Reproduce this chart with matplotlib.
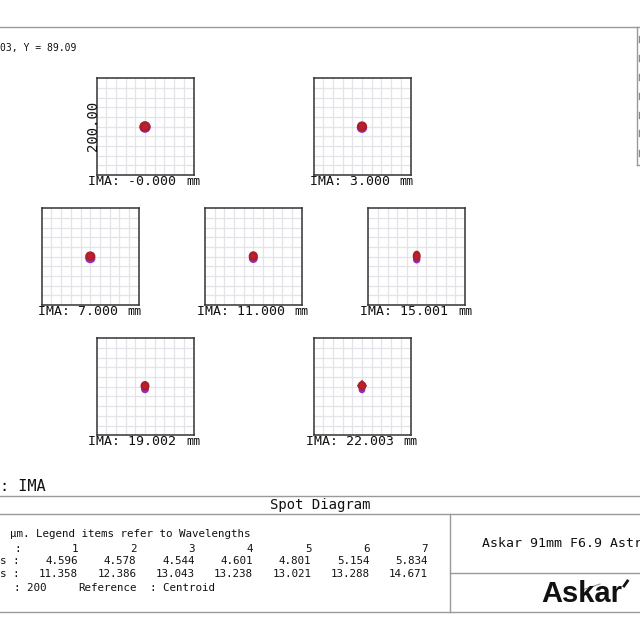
import matplotlib
matplotlib.use("Agg")
import matplotlib.pyplot as plt
from matplotlib.patches import Ellipse, Polygon
from matplotlib.lines import Line2D
from matplotlib.text import Annotation

# ---------------- data ----------------
field_labels = ["-0.000", "3.000", "7.000", "11.000", "15.001", "19.002", "22.003"]
field_numbers = [1, 2, 3, 4, 5, 6, 7]
rms_radius = [4.596, 4.578, 4.544, 4.601, 4.801, 5.154, 5.834]
geo_radius = [11.358, 12.386, 13.043, 13.238, 13.021, 13.288, 14.671]
box_scale_um = 200.00
rays_density = 200
# spot appearance (micrometres): red (long wl) and purple (short wl)
red_w = [22.5, 21.0, 21.0, 19.0, 16.5, 18.5, 21.0]
red_h = [22.5, 21.0, 20.0, 20.5, 22.0, 20.5, 25.0]
red_dy = [0.0, 0.5, 1.0, 1.0, 1.5, 1.5, 2.0]
pur_w = [23.5, 21.5, 21.0, 18.5, 15.5, 16.5, 14.0]
pur_h = [23.5, 21.5, 20.0, 19.0, 17.0, 17.0, 15.0]
pur_dy = [-0.8, -2.0, -3.5, -3.5, -5.5, -5.0, -6.0]
spot_shape = ["o", "o", "o", "o", "o", "o", "d"]

RED = "#ae1f2b"
PURPLE = "#8a2fd0"
GRID = "#e3e3ea"
LINE = "#9a9a9a"
MONO = "DejaVu Sans Mono"

W = H = 640
fig = plt.figure(figsize=(6.4, 6.4), dpi=100)
fig.patch.set_facecolor("white")


def fx(px):
    return px / W


def fy(py):
    return 1 - py / H


def hline(y, x0, x1, color=LINE, lw=1.0):
    fig.add_artist(Line2D([fx(x0), fx(x1)], [fy(y), fy(y)], color=color, lw=lw))


def vline(x, y0, y1, color=LINE, lw=1.0):
    fig.add_artist(Line2D([fx(x), fx(x)], [fy(y0), fy(y1)], color=color, lw=lw))


def ftext(x, y, s, **kw):
    kw.setdefault("family", MONO)
    kw.setdefault("color", "#111111")
    return fig.text(fx(x), fy(y), s, **kw)


# ---------------- frame lines ----------------
hline(27.3, 0, 640)
ftext(0, 48.3, "03, Y = 89.09", fontsize=7, va="center", ha="left")

# legend box at right edge
vline(636.7, 27.3, 165)
hline(165, 636.7, 640)
for yy in [39.3, 58.3, 77.3, 96, 115, 133.3, 152.7]:
    vline(639.2, yy - 3, yy + 3, color="#8a8a8a", lw=1.0)

# ---------------- spot boxes ----------------
size = 97
box_centers = [(145, 126.7), (362, 126.7),
               (90.3, 256.7), (253.3, 256.7), (416.7, 256.7),
               (145, 386.7), (362, 386.7)]

half = box_scale_um / 2
for i, (cx, cy) in enumerate(box_centers):
    ax = fig.add_axes([fx(cx - size / 2), fy(cy + size / 2), size / W, size / H])
    ax.set_xlim(-half, half)
    ax.set_ylim(-half, half)
    ticks = [-half + k * box_scale_um / 10 for k in range(11)]
    for t in ticks[1:-1]:
        ax.axvline(t, color=GRID, lw=0.9, zorder=0)
        ax.axhline(t, color=GRID, lw=0.9, zorder=0)
    ax.set_xticks([])
    ax.set_yticks([])
    for sp in ax.spines.values():
        sp.set_color("#333333")
        sp.set_linewidth(1.1)

    # purple (short wavelength) spot underneath
    ax.add_patch(Ellipse((0, pur_dy[i]), pur_w[i], pur_h[i], color=PURPLE, zorder=2, lw=0))
    # red spot on top
    if spot_shape[i] == "d":
        w, h, dy = red_w[i], red_h[i], red_dy[i]
        ax.add_patch(Ellipse((0, dy), w * 0.85, h * 0.75, color=RED, zorder=3, lw=0))
        ax.add_patch(Polygon([(0, dy + h / 2), (w / 2, dy), (0, dy - h / 2), (-w / 2, dy)],
                             closed=True, color=RED, zorder=3, lw=0))
    else:
        ax.add_patch(Ellipse((0, red_dy[i]), red_w[i], red_h[i], color=RED, zorder=3, lw=0))
    ax.add_patch(Ellipse((0, red_dy[i]), red_w[i] * 0.45, red_h[i] * 0.45,
                         color="#c42532", zorder=4, lw=0, alpha=0.6))

    # field label under the box
    t = ftext(cx - 12.5, cy + size / 2 + 6.5, "IMA: " + field_labels[i],
              fontsize=9.5, ha="center", va="center")
    fig.add_artist(Annotation("mm", xy=(1, 0), xycoords=t, xytext=(7, 0),
                              textcoords="offset points", ha="left", va="bottom",
                              family=MONO, fontsize=8.5, color="#111111"))

# scale label on first box
ftext(92.5, 126, f"{box_scale_um:.2f}", fontsize=10, rotation=90, ha="center", va="center")

# ---------------- bottom panel ----------------
ftext(0, 486.5, ": IMA", fontsize=11, ha="left", va="center")
hline(495.5, 0, 640)
ftext(320.5, 504.5, "Spot Diagram", fontsize=10, ha="center", va="center")
hline(514.3, 0, 640)
hline(612.3, 0, 640)
vline(449.7, 514.3, 612.3)
hline(573.3, 449.7, 640)

TS = 7.8
ftext(10, 534.3, "\u03bcm. Legend items refer to Wavelengths", fontsize=TS, ha="left", va="center")
ftext(14, 548.7, ":", fontsize=TS, ha="left", va="center")
ftext(0, 561.3, "s :", fontsize=TS, ha="left", va="center")
ftext(0, 574.3, "s :", fontsize=TS, ha="left", va="center")
col_x = [78, 136.3, 194.6, 252.9, 311.2, 369.5, 427.8]
for k in range(7):
    ftext(col_x[k], 548.7, f"{field_numbers[k]}", fontsize=TS, ha="right", va="center")
    ftext(col_x[k], 561.3, f"{rms_radius[k]:.3f}", fontsize=TS, ha="right", va="center")
    ftext(col_x[k], 574.3, f"{geo_radius[k]:.3f}", fontsize=TS, ha="right", va="center")
ftext(14, 587.7, f": {rays_density}", fontsize=TS, ha="left", va="center")
ftext(78.3, 587.7, "Reference", fontsize=TS, ha="left", va="center")
ftext(150.5, 587.7, ": Centroid", fontsize=TS, ha="left", va="center")

ftext(481.5, 543.3, "Askar 91mm F6.9 Astr", fontsize=9.5, ha="left", va="center")

# logo
fig.text(fx(541.5), fy(601.5), "Askar", family="Liberation Sans", fontweight="bold",
         fontsize=21, color="#111111", ha="left", va="baseline")
fig.add_artist(Line2D([fx(582), fx(600)], [fy(590), fy(584)], color="#9a9a9a", lw=0.8))
fig.add_artist(Line2D([fx(624), fx(627.5)], [fy(586), fy(581)], color="#111111", lw=2.0))

fig.savefig("out.png", dpi=100, facecolor="white")
